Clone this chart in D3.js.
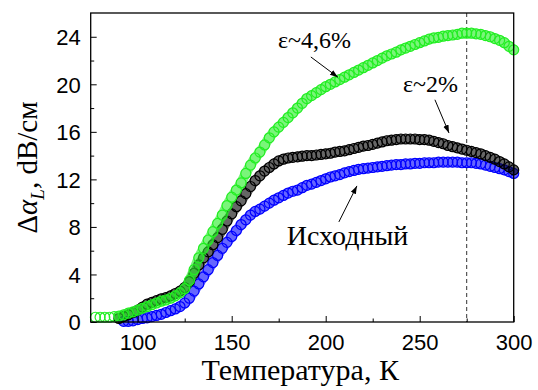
<!DOCTYPE html>
<html>
<head>
<meta charset="utf-8">
<script src="https://cdn.jsdelivr.net/npm/d3@7"></script>
<style>
  body { margin: 0; background: #fff; }
  svg { display: block; }
  .serif { font-family: "Liberation Serif", "DejaVu Serif", "Times New Roman", Times, serif; }
  .sans { font-family: "Liberation Sans", Arial, Helvetica, sans-serif; }
</style>
</head>
<body>
<div id="vis"></div>
<script>
// temperature grid (K), values every 2.5 K
const temps = d3.range(77.5, 300.01, 2.5)

const green = [
  0.4, 0.4, 0.4, 0.4, 0.45, 0.5, 0.6, 0.75, 0.85, 1.0,
  1.15, 1.3, 1.45, 1.6, 1.75, 1.85, 2.0, 2.2, 2.45, 2.8,
  3.5, 4.4, 5.4, 6.2, 6.9, 7.6, 8.3, 9.0, 9.8, 10.5,
  11.1, 11.7, 12.5, 13.2, 13.8, 14.3, 14.9, 15.5, 16.0, 16.4,
  16.8, 17.2, 17.6, 18.0, 18.4, 18.8, 19.05, 19.3, 19.55, 19.8,
  20.0, 20.2, 20.4, 20.6, 20.8, 21.0, 21.2, 21.4, 21.6, 21.8,
  22.0, 22.2, 22.4, 22.55, 22.7, 22.9, 23.05, 23.2, 23.35, 23.5,
  23.65, 23.8, 23.9, 23.95, 24.05, 24.1, 24.15, 24.2, 24.3, 24.3,
  24.3, 24.25, 24.2, 24.1, 24.0, 23.85, 23.7, 23.5, 23.2, 22.9
]

const black = [
  null, null, null, null, null, 0.3, 0.45, 0.6, 0.8, 1.0,
  1.25, 1.5, 1.65, 1.8, 1.95, 2.05, 2.2, 2.4, 2.6, 2.9,
  3.4, 4.1, 4.8, 5.4, 5.9, 6.5, 7.1, 7.8, 8.5, 9.1,
  9.7, 10.2, 10.8, 11.4, 11.9, 12.3, 12.7, 13.0, 13.3, 13.55,
  13.7, 13.8, 13.85, 13.9, 13.95, 14.0, 14.0, 14.05, 14.1, 14.15,
  14.2, 14.3, 14.35, 14.4, 14.5, 14.6, 14.7, 14.8, 14.85, 14.95,
  15.05, 15.15, 15.25, 15.3, 15.35, 15.4, 15.4, 15.4, 15.4, 15.35,
  15.35, 15.3, 15.2, 15.1, 15.0, 14.85, 14.75, 14.65, 14.55, 14.45,
  14.35, 14.25, 14.15, 14.0, 13.85, 13.7, 13.5, 13.3, 13.05, 12.8
]

const blue = [
  null, null, null, null, null, null, 0.05, 0.05, 0.1, 0.2,
  0.3, 0.35, 0.45, 0.55, 0.65, 0.8, 0.95, 1.1, 1.3, 1.6,
  2.0, 2.6, 3.2, 3.8, 4.4, 5.0, 5.6, 6.2, 6.7, 7.2,
  7.7, 8.2, 8.6, 9.0, 9.3, 9.5, 9.75, 10.0, 10.25, 10.45,
  10.65, 10.85, 11.0, 11.1, 11.3, 11.5, 11.6, 11.75, 11.9, 12.05,
  12.2, 12.3, 12.4, 12.55, 12.65, 12.75, 12.85, 12.9, 12.95, 13.0,
  13.05, 13.1, 13.15, 13.2, 13.25, 13.25, 13.3, 13.3, 13.35, 13.35,
  13.4, 13.4, 13.4, 13.45, 13.45, 13.45, 13.45, 13.45, 13.4, 13.4,
  13.4, 13.35, 13.3, 13.2, 13.1, 13.0, 12.9, 12.8, 12.65, 12.5
]

const xTicks = [100, 150, 200, 250, 300]
const xMinor = [125, 175, 225, 275]
const yTicks = [0, 4, 8, 12, 16, 20, 24]
const yMinor = [2, 6, 10, 14, 18, 22]
const markT = 275

// annotations: label position and arrow (data units)
const notes = [
  { text: 'ε~4,6%', t: 174.6, v: 23.06, size: 24, from: [192.1, 22.3], to: [206.5, 20.6] },
  { text: 'ε~2%', t: 241.1, v: 19.36, size: 24, from: [258.1, 18.7], to: [265.6, 15.9] },
  { text: 'Исходный', t: 179.3, v: 6.48, size: 28, from: [207.0, 8.42], to: [216.6, 11.45] }
]

const W = 538, H = 390
const margin = { left: 90.7, top: 13, right: 24.3, bottom: 68 }

const svg = d3.select('#vis').append('svg')
  .attr('width', W)
  .attr('height', H)

const x = d3.scaleLinear().domain([75, 300]).range([margin.left, W - margin.right])
const y = d3.scaleLinear().domain([0, 26]).range([H - margin.bottom, margin.top])

// dashed marker at 275 K
svg.append('line')
  .attr('x1', x(markT)).attr('x2', x(markT))
  .attr('y1', y.range()[1]).attr('y2', y.range()[0])
  .attr('stroke', '#333').attr('stroke-width', 1)
  .attr('stroke-dasharray', '4,3')

// series: blue under black under green
const series = [
  { vals: blue, color: '#0000ff' },
  { vals: black, color: '#000000' },
  { vals: green, color: '#22ee22' }
]

const line = d3.line()
  .x(d => x(d.t))
  .y(d => y(d.v))
  .curve(d3.curveMonotoneX)

series.forEach(s => {
  const pts = temps.map((t, i) => ({ t: t, v: s.vals[i] })).filter(d => d.v !== null)
  const g = svg.append('g')
  // dense band of the original markers
  g.append('path')
    .datum(pts.filter(d => d.t >= 88))
    .attr('d', line)
    .attr('fill', 'none')
    .attr('stroke', s.color)
    .attr('stroke-width', 10)
    .attr('stroke-linecap', 'round')
    .attr('opacity', 0.6)
  g.selectAll('circle')
    .data(pts)
    .enter()
    .append('circle')
    .attr('cx', d => x(d.t))
    .attr('cy', d => y(d.v))
    .attr('r', 5)
    .attr('fill', 'none')
    .attr('stroke', s.color)
    .attr('stroke-width', 1.2)
})

// frame
svg.append('rect')
  .attr('x', x.range()[0]).attr('y', y.range()[1])
  .attr('width', x.range()[1] - x.range()[0])
  .attr('height', y.range()[0] - y.range()[1])
  .attr('fill', 'none').attr('stroke', '#000').attr('stroke-width', 1.3)

// axes with inward ticks
const xAxis = svg.append('g')
  .attr('transform', `translate(0,${y.range()[0]})`)
  .call(d3.axisBottom(x).tickValues(xTicks).tickSizeInner(-6).tickSizeOuter(0).tickPadding(12))
const xAxisMinor = svg.append('g')
  .attr('transform', `translate(0,${y.range()[0]})`)
  .call(d3.axisBottom(x).tickValues(xMinor).tickSizeInner(-3.5).tickSizeOuter(0).tickFormat(''))

const yAxis = svg.append('g')
  .attr('transform', `translate(${x.range()[0]},0)`)
  .call(d3.axisLeft(y).tickValues(yTicks).tickSizeInner(-6).tickSizeOuter(0).tickPadding(10))
const yAxisMinor = svg.append('g')
  .attr('transform', `translate(${x.range()[0]},0)`)
  .call(d3.axisLeft(y).tickValues(yMinor).tickSizeInner(-3.5).tickSizeOuter(0).tickFormat(''))

;[xAxis, xAxisMinor, yAxis, yAxisMinor].forEach(g => {
  g.attr('font-family', null).attr('font-size', null)
  g.select('.domain').remove()
  g.selectAll('.tick line').attr('stroke', '#000').attr('stroke-width', 1)
  g.selectAll('text').attr('class', 'sans').style('font-size', '22px').attr('fill', '#000')
})
yAxis.selectAll('text').attr('dy', '0.36em')

// axis titles
svg.append('text')
  .attr('class', 'serif')
  .attr('x', (x.range()[0] + x.range()[1]) / 2 - 2)
  .attr('y', 380)
  .attr('text-anchor', 'middle')
  .style('font-size', '30px')
  .text('Температура, К')

const yTitle = svg.append('text')
  .attr('class', 'serif')
  .attr('transform', `translate(37,${(y.range()[0] + y.range()[1]) / 2}) rotate(-90)`)
  .attr('text-anchor', 'middle')
  .style('font-size', '29px')
yTitle.append('tspan').text('Δ')
yTitle.append('tspan').style('font-style', 'italic').text('α')
yTitle.append('tspan').style('font-style', 'italic').style('font-size', '19px').attr('dy', 7).text('L')
yTitle.append('tspan').attr('dy', -7).text(', dB/см')

// arrowhead
svg.append('defs').append('marker')
  .attr('id', 'head')
  .attr('viewBox', '0 0 10 10')
  .attr('refX', 10).attr('refY', 5)
  .attr('markerWidth', 8).attr('markerHeight', 8)
  .attr('markerUnits', 'userSpaceOnUse')
  .attr('orient', 'auto')
  .append('path')
  .attr('d', 'M0,1.5 L10,5 L0,8.5 Z')
  .attr('fill', '#000')

notes.forEach(n => {
  svg.append('text')
    .attr('class', 'serif')
    .attr('x', x(n.t)).attr('y', y(n.v))
    .style('font-size', n.size + 'px')
    .text(n.text)
  svg.append('line')
    .attr('x1', x(n.from[0])).attr('y1', y(n.from[1]))
    .attr('x2', x(n.to[0])).attr('y2', y(n.to[1]))
    .attr('stroke', '#000').attr('stroke-width', 1)
    .attr('marker-end', 'url(#head)')
})
</script>
</body>
</html>
